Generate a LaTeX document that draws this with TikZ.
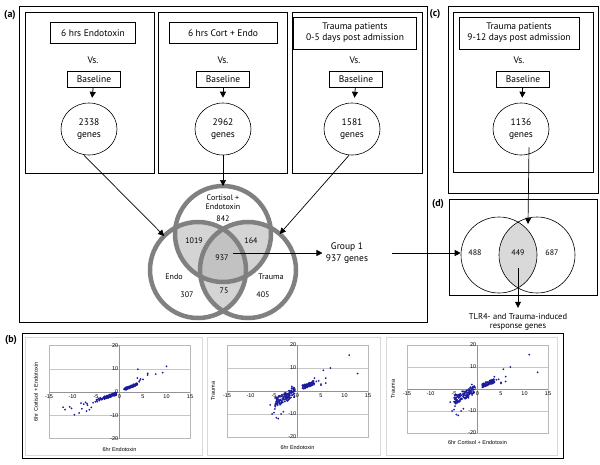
\documentclass[tikz,border=0pt]{standalone}
\usepackage{fontspec}
\setmainfont{PT Sans}
\newfontfamily\chartfont{Liberation Sans}
\usetikzlibrary{arrows.meta,shapes.geometric}

\definecolor{ringgray}{HTML}{808080}
\definecolor{lensgray}{HTML}{D4D4D4}
\definecolor{coregray}{HTML}{C2C2C2}
\definecolor{dotblue}{HTML}{1A1A9C}

\begin{document}
\begin{tikzpicture}[
    x = 1pt,
    y = -1pt,
    >={Triangle[length=6pt,width=6pt]},
    panel/.style = {draw, line width=0.8pt},
    conn/.style = {->, line width=0.7pt},
    cmpbox/.style = {draw, line width=0.6pt, minimum height=21pt, inner sep=2pt,
              align=center, font=\fontsize{9.5}{11}\selectfont},
    basebox/.style = {draw, line width=0.6pt, minimum width=53pt, minimum height=16pt,
              inner sep=1pt, font=\fontsize{9.5}{11}\selectfont},
    genes/.style = {ellipse, draw, line width=0.6pt, minimum width=56pt,
              minimum height=52pt, inner sep=0pt, align=center,
              font=\fontsize{9.5}{12}\selectfont},
    vennring/.style = {circle, draw=ringgray, line width=4.5pt, minimum size=96pt,
              inner sep=0pt, outer sep=0pt},
    thinring/.style = {circle, draw, line width=0.6pt, minimum size=76pt, inner sep=0pt},
    vennlab/.style = {align=center, font=\fontsize{8}{9.5}\selectfont},
    plain/.style = {align=center, font=\fontsize{9.5}{12}\selectfont},
    lbl/.style = {font=\bfseries\fontsize{10}{12}\selectfont},
    chartbox/.style = {draw=gray!30, line width=0.5pt},
    plotarea/.style = {draw=gray!55, line width=0.4pt},
    gridline/.style = {draw=gray!45, line width=0.4pt},
    axisline/.style = {draw=gray!85, line width=0.5pt},
    tick/.style = {inner sep=1pt, font=\chartfont\fontsize{5.5}{6}\selectfont},
    axtitle/.style = {inner sep=0pt, font=\chartfont\fontsize{5.5}{6}\selectfont},
    dot/.style = {fill=dotblue},
    ]

\useasboundingbox (0,0) rectangle (600,464);

% frames
\draw[panel] (19,6) rectangle (427,322);
\draw[panel] (25,12) rectangle (154,173);
\draw[panel] (158,12) rectangle (287,173);
\draw[panel] (292,12) rectangle (422,173);
\draw[panel] (448,6) rectangle (598,193);
\draw[panel] (453,12) rectangle (593,172);
\draw[panel] (449,199) rectangle (597,295);
\draw[panel] (22,333) rectangle (563,458);

\node[lbl] (lbl_a) at (10,15) {(a)};
\node[lbl] (lbl_b) at (11,340) {(b)};
\node[lbl] (lbl_c) at (435,14) {(c)};
\node[lbl] (lbl_d) at (438,204) {(d)};

% comparisons
\node[cmpbox, minimum width=85pt] (cmp_1) at (93,33) {6 hrs Endotoxin};
\node[cmpbox, minimum width=108pt] (cmp_2) at (223,33) {6 hrs Cort + Endo};
\node[cmpbox, minimum width=123pt, minimum height=32pt] (cmp_3) at (355,33)
    {Trauma patients\\0-5 days post admission};
\node[cmpbox, minimum width=120pt, minimum height=32pt] (cmp_c) at (519,33)
    {Trauma patients\\9-12 days post admission};

\node[plain] (vs_1) at (93,60) {Vs.};
\node[plain] (vs_2) at (223,60) {Vs.};
\node[plain] (vs_3) at (355,60) {Vs.};
\node[plain] (vs_c) at (519,60) {Vs.};

\node[basebox] (base_1) at (94,79) {Baseline};
\node[basebox] (base_2) at (223,79) {Baseline};
\node[basebox] (base_3) at (356,79) {Baseline};
\node[basebox] (base_c) at (523,79) {Baseline};

\node[genes] (genes_1) at (89,129) {2338\\genes};
\node[genes] (genes_2) at (223,129) {2962\\genes};
\node[genes] (genes_3) at (352,129) {1581\\genes};
\node[genes] (genes_c) at (521,129) {1136\\genes};

\draw[conn, thick, shorten >=5pt] (base_1) -- (genes_1);
\draw[conn, thick, shorten >=5pt] (base_2) -- (genes_2);
\draw[conn, thick, shorten >=5pt] (base_3) -- (genes_3);
\draw[conn, thick, shorten >=5pt] (base_c) -- (genes_c);

% three-way venn
\coordinate (c_cort) at (223,234);
\coordinate (c_endo) at (198,270);
\coordinate (c_trauma) at (248,270);
\begin{scope}
  \clip (c_cort) circle[radius=48];
  \fill[lensgray] (c_endo) circle[radius=48];
  \fill[lensgray] (c_trauma) circle[radius=48];
\end{scope}
\begin{scope}
  \clip (c_endo) circle[radius=48];
  \fill[lensgray] (c_trauma) circle[radius=48];
\end{scope}
\begin{scope}
  \clip (c_cort) circle[radius=48];
  \clip (c_endo) circle[radius=48];
  \fill[coregray] (c_trauma) circle[radius=48];
\end{scope}
\node[vennring] (venn_cort) at (c_cort) {};
\node[vennring] (venn_endo) at (c_endo) {};
\node[vennring] (venn_trauma) at (c_trauma) {};

\node[vennlab] (lab_cort) at (223,202) {Cortisol +\\Endotoxin};
\node[vennlab] (n_842) at (223,219) {842};
\node[vennlab] (n_1019) at (194,241) {1019};
\node[vennlab] (n_164) at (251,241) {164};
\node[vennlab] (n_937) at (222,258) {937};
\node[vennlab] (lab_endo) at (174,277) {Endo};
\node[vennlab] (lab_trauma) at (271,277) {Trauma};
\node[vennlab] (n_307) at (187,295) {307};
\node[vennlab] (n_75) at (224,291) {75};
\node[vennlab] (n_405) at (263,295) {405};

\draw[conn] ([xshift=-5pt]genes_1.south) -- (venn_endo);
\draw[conn] (genes_2.south) -- (venn_cort.north);
\draw[conn] ([xshift=-3pt]genes_3.south) -- (venn_trauma);

\coordinate (core) at (233,253);
\node[plain] (group_1) at (347,253) {Group 1\\937 genes};
\draw[conn] (core) -- (core -| group_1.west);

% two-way venn
\coordinate (c_left) at (499,255);
\coordinate (c_right) at (537,255);
\begin{scope}
  \clip (c_left) circle[radius=38];
  \fill[gray!30] (c_right) circle[radius=38];
\end{scope}
\node[thinring] (venn_left) at (c_left) {};
\node[thinring] (venn_right) at (c_right) {};
\node[vennlab] (n_488) at (475,253) {488};
\node[vennlab] (n_449) at (518,253) {449};
\node[vennlab] (n_687) at (552,253) {687};

\draw[conn, shorten <=20pt] (group_1.east) -- (group_1.east -| venn_left.west);
\coordinate (lens_top) at (528,224);
\draw[conn] ([xshift=8pt,yshift=8pt]genes_c.south) -- (lens_top);

\coordinate (lens_mid) at (518,268);
\node[vennlab, font=\fontsize{8.5}{9.5}\selectfont] (tlr) at (518,322)
    {TLR4- and Trauma-induced\\response genes};
\draw[conn, shorten >=2pt] (lens_mid) -- (tlr.north);

% scatter plots
\draw[chartbox] (25,337) rectangle (202,455);
\draw[chartbox] (207,337) rectangle (380,455);
\draw[chartbox] (386,337) rectangle (557,455);

\foreach \ox/\oy/\sy/\xt/\yt/\yx in {119.5/392/2.33/6hr Endotoxin/6hr Cortisol + Endotoxin/36,
                                     297.5/391/2.30/6hr Endotoxin/Trauma/213,
                                     477.5/389/2.20/6hr Cortisol + Endotoxin/Trauma/393} {
  \begin{scope}[shift={(\ox,\oy)}, x=4.7pt, y=\sy pt]
    \draw[gridline] (-15,10) -- (15,10) (-15,-10) -- (15,-10);
    \draw[plotarea] (-15,-20) rectangle (15,20);
    \draw[axisline] (-15,0) -- (15,0) (0,-20) -- (0,20);
    \foreach \t in {-15,-10,-5,0,5,10,15}
      \node[tick, below] at (\t,-0.6) {\t};
    \foreach \t in {-20,-10,0,10,20}
      \node[tick, left] at (0,\t) {\t};
    \node[axtitle] at (0,-24.5) {\xt};
  \end{scope}
  \node[axtitle, rotate=90] at (\yx,\oy) {\yt};
}

\pgfmathsetseed{11}
% plot 1
\begin{scope}[shift={(119.5,392)}, x=4.7pt, y=2.33pt]
  \foreach \k in {1,...,110} {
    \pgfmathsetmacro\px{-0.7-6.5*rnd*rnd}
    \pgfmathsetmacro\py{0.68*\px-0.3+0.6*rand}
    \fill[dot] (\px,\py) circle[radius=1pt];
  }
  \foreach \k in {1,...,90} {
    \pgfmathsetmacro\px{1+2.8*rnd}
    \pgfmathsetmacro\py{0.85*\px+0.3+0.5*rand}
    \fill[dot] (\px,\py) circle[radius=1pt];
  }
  \foreach \px/\py in {-12/-6.5,-11.6/-7.6,-10.6/-6.4,-10.2/-7,-9.6/-9.8,-8.6/-9,
                       -8/-7.2,-7/-8.2,-6.4/-7.6,-6/-6.6,-8.2/-4.8,-7.6/-5.2,-6.8/-5.6,
                       -7.2/-4.4,-5.6/-4.6,3.9/9.8,4.3/5,4.5/5.6,6/8,6/7.3,7.7/7.7,
                       9.2/8.3,10/11,3.8/6,5/5.4,4.2/4.4}
    \fill[dot] (\px,\py) circle[radius=1pt];
\end{scope}
% plot 2
\begin{scope}[shift={(297.5,391)}, x=4.7pt, y=2.30pt]
  \foreach \k in {1,...,130} {
    \pgfmathsetmacro\px{-0.6-4.2*rnd}
    \pgfmathsetmacro\py{1.1*\px+0.3+2.2*rand}
    \fill[dot] (\px,\py) circle[radius=1pt];
  }
  \foreach \k in {1,...,80} {
    \pgfmathsetmacro\px{1+2.6*rnd}
    \pgfmathsetmacro\py{0.8*\px+0.8+0.9*rand}
    \fill[dot] (\px,\py) circle[radius=1pt];
  }
  \foreach \px/\py in {-5.4/-10,-5/-9.4,-4.5/-11.6,-4.1/-12,-3.5/-10,-3/-9,-1.2/2,
                       -1/1,-5.8/-6,-4.8/-7.8,3.6/5.6,4.5/4.4,5/3,5.5/9,6/5.6,
                       6/3.4,7/10,11/15.6,12.8/7.6,4/4.2,3/3.8,5/2.6}
    \fill[dot] (\px,\py) circle[radius=1pt];
\end{scope}
% plot 3
\begin{scope}[shift={(477.5,389)}, x=4.7pt, y=2.20pt]
  \foreach \k in {1,...,130} {
    \pgfmathsetmacro\px{-0.6-4.4*rnd}
    \pgfmathsetmacro\py{1.1*\px+0.3+2.2*rand}
    \fill[dot] (\px,\py) circle[radius=1pt];
  }
  \foreach \k in {1,...,80} {
    \pgfmathsetmacro\px{1+2.6*rnd}
    \pgfmathsetmacro\py{0.8*\px+0.8+0.9*rand}
    \fill[dot] (\px,\py) circle[radius=1pt];
  }
  \foreach \px/\py in {-5.4/-10,-5/-9.4,-4.5/-11.6,-4.1/-12,-3.5/-10,-3/-9,-1.2/2,
                       -1/1,-5.8/-6,-4.8/-7.8,3.6/5.6,4.5/4.4,5/3,5.5/9,6/5.6,
                       6/3.4,7/10,11/15.6,12.8/7.6,4/4.2,3/3.8,5/2.6}
    \fill[dot] (\px,\py) circle[radius=1pt];
\end{scope}

\end{tikzpicture}
\end{document}
